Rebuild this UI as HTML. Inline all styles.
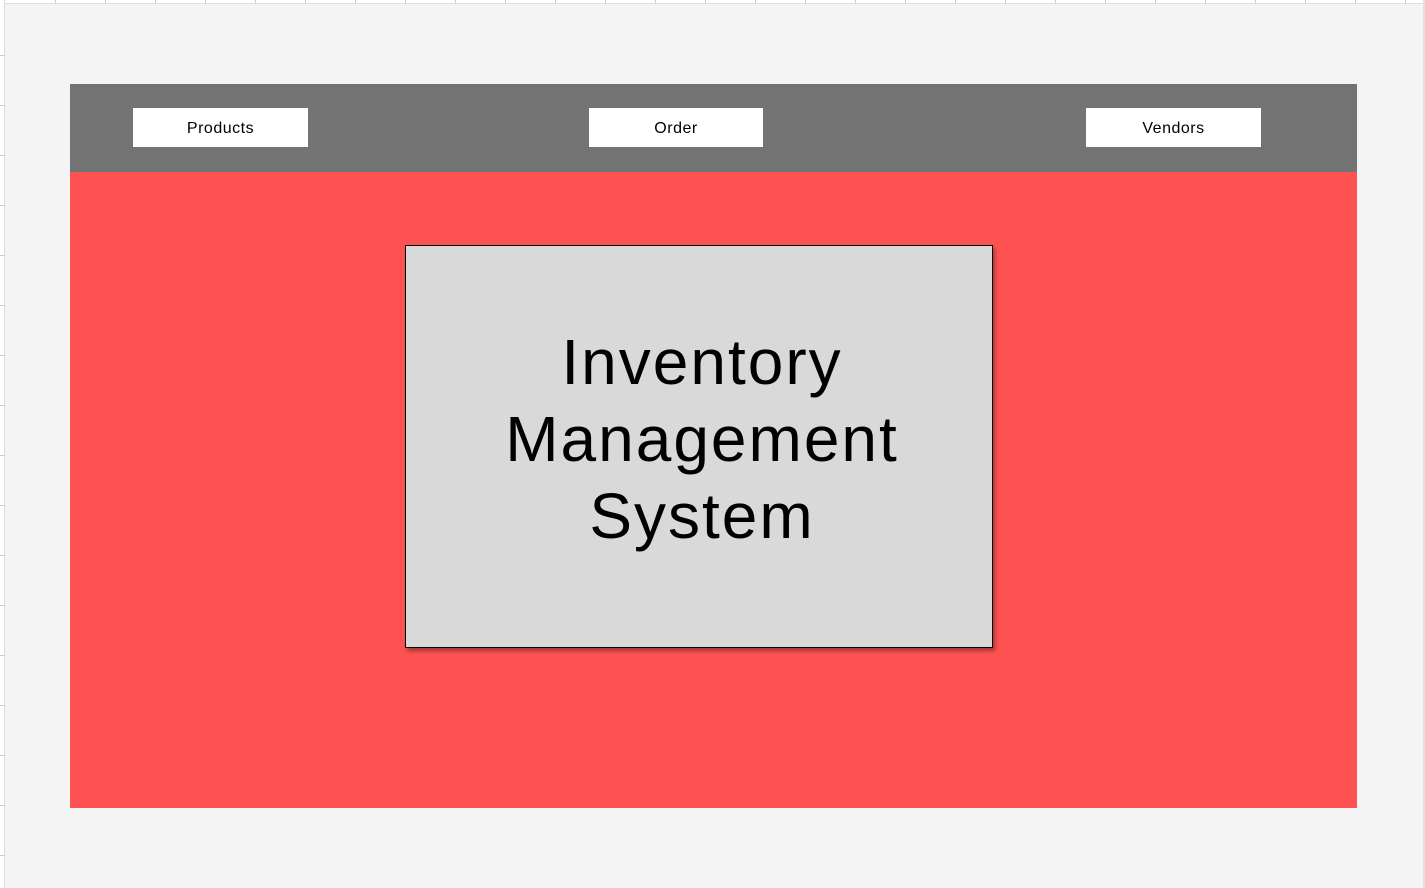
<!DOCTYPE html>
<html><head><style>
*{margin:0;padding:0;box-sizing:border-box}
body{width:1425px;height:888px;background:#f4f4f4;position:relative;overflow:hidden;font-family:"Liberation Sans",sans-serif}
.topr{position:absolute;left:0;top:0;width:1425px;height:4px;background:#fff;border-bottom:1px solid #ddd}
.leftr{position:absolute;left:0;top:0;width:5px;height:888px;background:#fff;border-right:1px solid #ddd}
.rightr{position:absolute;right:0;top:0;width:2px;height:888px;background:#e0e0e0}
.tx{position:absolute;top:0;width:1px;height:4px;background:#ccc}
.ty{position:absolute;left:0;width:5px;height:1px;background:#ccc}
.hdr{position:absolute;left:70px;top:84px;width:1287px;height:88px;background:#737373}
.red{position:absolute;left:70px;top:172px;width:1287px;height:636px;background:#ff5252}
.btn{position:absolute;top:108px;height:39px;background:#fff;font-size:16px;letter-spacing:0.5px;display:flex;align-items:center;justify-content:center;color:#000;padding-top:2px}
.box{position:absolute;left:405px;top:245px;width:588px;height:403px;background:#d9d9d9;border:1px solid #000;box-shadow:2px 3px 4px rgba(0,0,0,.35);display:flex;align-items:center;justify-content:center;text-align:center;font-size:64px;letter-spacing:2px;line-height:77px;padding-bottom:15px;padding-left:6px}
</style></head><body>
<div class="topr"></div><div class="leftr"></div><div class="rightr"></div>
<div class="tx" style="left:55px"></div><div class="tx" style="left:105px"></div><div class="tx" style="left:155px"></div><div class="tx" style="left:205px"></div><div class="tx" style="left:255px"></div><div class="tx" style="left:305px"></div><div class="tx" style="left:355px"></div><div class="tx" style="left:405px"></div><div class="tx" style="left:455px"></div><div class="tx" style="left:505px"></div><div class="tx" style="left:555px"></div><div class="tx" style="left:605px"></div><div class="tx" style="left:655px"></div><div class="tx" style="left:705px"></div><div class="tx" style="left:755px"></div><div class="tx" style="left:805px"></div><div class="tx" style="left:855px"></div><div class="tx" style="left:905px"></div><div class="tx" style="left:955px"></div><div class="tx" style="left:1005px"></div><div class="tx" style="left:1055px"></div><div class="tx" style="left:1105px"></div><div class="tx" style="left:1155px"></div><div class="tx" style="left:1205px"></div><div class="tx" style="left:1255px"></div><div class="tx" style="left:1305px"></div><div class="tx" style="left:1355px"></div><div class="tx" style="left:1405px"></div>
<div class="ty" style="top:55px"></div><div class="ty" style="top:105px"></div><div class="ty" style="top:155px"></div><div class="ty" style="top:205px"></div><div class="ty" style="top:255px"></div><div class="ty" style="top:305px"></div><div class="ty" style="top:355px"></div><div class="ty" style="top:405px"></div><div class="ty" style="top:455px"></div><div class="ty" style="top:505px"></div><div class="ty" style="top:555px"></div><div class="ty" style="top:605px"></div><div class="ty" style="top:655px"></div><div class="ty" style="top:705px"></div><div class="ty" style="top:755px"></div><div class="ty" style="top:805px"></div><div class="ty" style="top:855px"></div>
<div class="hdr"></div>
<div class="red"></div>
<div class="btn" style="left:133px;width:175px">Products</div>
<div class="btn" style="left:589px;width:174px">Order</div>
<div class="btn" style="left:1086px;width:175px">Vendors</div>
<div class="box"><div>Inventory<br>Management<br>System</div></div>
</body></html>
